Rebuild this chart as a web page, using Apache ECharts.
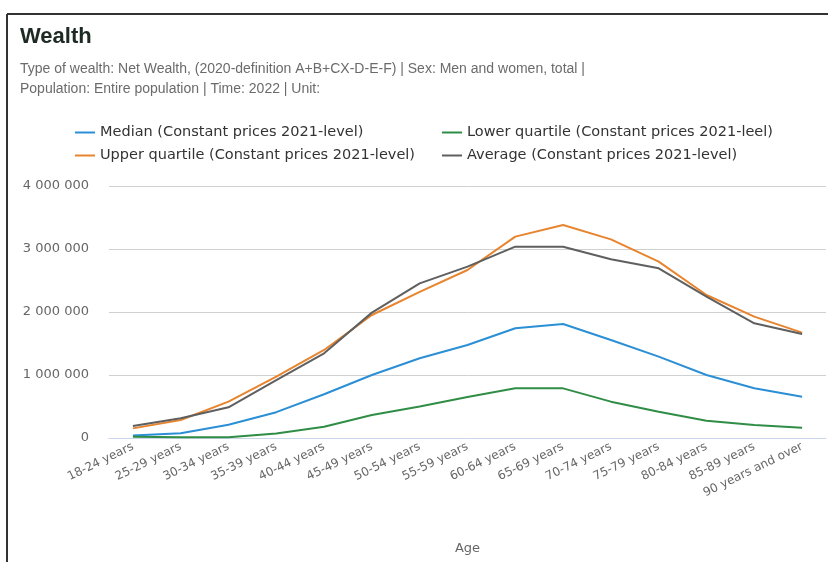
<!DOCTYPE html>
<html>
<head>
<meta charset="utf-8">
<script src="https://cdn.jsdelivr.net/npm/echarts@6/dist/echarts.min.js"></script>
<style>
html,body{margin:0;padding:0;background:#fff;}
#chart{width:828px;height:562px;}
</style>
</head>
<body>
<div id="chart"></div>
<script>
const categories = ["18-24 years","25-29 years","30-34 years","35-39 years","40-44 years","45-49 years","50-54 years","55-59 years","60-64 years","65-69 years","70-74 years","75-79 years","80-84 years","85-89 years","90 years and over"];
const median = [40000, 75000, 210000, 410000, 695000, 1000000, 1265000, 1476000, 1741000, 1810000, 1556000, 1291000, 1000000, 790000, 656000];
const lowerQuartile = [20000, 10000, 12000, 70000, 180000, 365000, 500000, 650000, 788000, 788000, 577000, 418000, 275000, 206000, 164000];
const upperQuartile = [153000, 286000, 577000, 974000, 1397000, 1952000, 2320000, 2667000, 3196000, 3380000, 3153000, 2800000, 2270000, 1926000, 1672000];
const average = [190000, 312000, 487000, 920000, 1344000, 1990000, 2455000, 2720000, 3037000, 3037000, 2836000, 2693000, 2243000, 1820000, 1651000];
const yTicks = [0, 1000000, 2000000, 3000000, 4000000];

const names = {
  median: "Median (Constant prices 2021-level)",
  lower: "Lower quartile (Constant prices 2021-leel)",
  upper: "Upper quartile (Constant prices 2021-level)",
  avg: "Average (Constant prices 2021-level)"
};

const chart = echarts.init(document.getElementById('chart'));
const fmt = v => String(v).replace(/\B(?=(\d{3})+(?!\d))/g, ' ');
const dv = 'DejaVu Sans, sans-serif';
const lib = 'Liberation Sans, Arial, sans-serif';
function line(name, data, color, z) {
  return {name, type:'line', data, symbol:'none', z, lineStyle:{color, width:2}, itemStyle:{color}};
}
chart.setOption({
  animation:false,
  textStyle:{fontFamily:dv},
  graphic:[
    {type:'line', shape:{x1:7,y1:14,x2:828,y2:14}, style:{stroke:'#333', lineWidth:2}},
    {type:'line', shape:{x1:7,y1:14,x2:7,y2:562}, style:{stroke:'#333', lineWidth:2}},
    {type:'text', left:20, top:26, style:{text:'Wealth', fontSize:22, fontWeight:'bold', fill:'#1e2a24', fontFamily:lib}},
    {type:'text', left:20, top:59, style:{text:'Type of wealth: Net Wealth, (2020-definition A+B+CX-D-E-F) | Sex: Men and women, total |\nPopulation: Entire population | Time: 2022 | Unit:', fontSize:14, lineHeight:20, fill:'#6b6b6b', fontFamily:lib}}
  ],
  legend:[
    {left:70, top:120, orient:'vertical', itemGap:8, icon:'rect', itemWidth:20, itemHeight:2,
     data:[names.median, names.upper], textStyle:{fontSize:14.5, color:'#333', fontFamily:dv}},
    {left:437, top:120, orient:'vertical', itemGap:8, icon:'rect', itemWidth:20, itemHeight:2,
     data:[names.lower, names.avg], textStyle:{fontSize:14.5, color:'#333', fontFamily:dv}}
  ],
  grid:{left:109, right:2, top:186, bottom:124},
  xAxis:{
    type:'category', data:categories, boundaryGap:true,
    name:'Age', nameLocation:'middle', nameGap:104,
    nameTextStyle:{fontSize:13, color:'#666', fontFamily:dv},
    axisTick:{show:false},
    axisLine:{lineStyle:{color:'#ccd6eb'}},
    axisLabel:{rotate:26, fontSize:12, color:'#666', margin:8, interval:0, fontFamily:dv}
  },
  yAxis:{
    type:'value', min:0, max:4000000, interval:1000000,
    axisLabel:{fontSize:13, color:'#666', margin:20, fontFamily:dv, formatter:v => yTicks.includes(v) ? fmt(v) : ''},
    splitLine:{lineStyle:{color:'#d0d0d0'}}
  },
  series:[
    line(names.median, median, '#2b8fd5', 3),
    line(names.lower, lowerQuartile, '#2f8d46', 3),
    line(names.upper, upperQuartile, '#e8842e', 3),
    line(names.avg, average, '#5f5f5f', 4)
  ]
});
</script>
</body>
</html>
